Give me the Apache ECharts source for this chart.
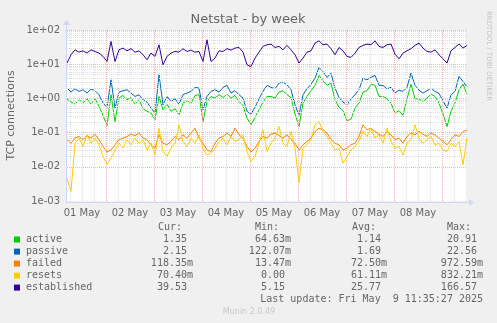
<!DOCTYPE html>
<html>
<head>
<meta charset="utf-8">
<script src="https://cdn.jsdelivr.net/npm/echarts@6/dist/echarts.min.js"></script>
<style>
  html, body { margin: 0; padding: 0; background: #f0f0f0; }
  #chart { width: 497px; height: 323px; }
</style>
</head>
<body>
<div id="chart"></div>
<script>
// Samples every 2 hours; time is counted in hours after 01 May 00:00.
const startHour = 4.5;
const stepHours = 2;

const dayLabels = ['01 May', '02 May', '03 May', '04 May', '05 May', '06 May', '07 May', '08 May'];
const yTickLabels = ['1e-03', '1e-02', '1e-01', '1e+00', '1e+01', '1e+02'];

const active = [
  0.97, 0.78, 0.68, 0.91, 0.73, 0.97, 0.68, 0.97, 0.58, 0.32,
  0.16, 1.28, 0.21, 1.02, 1.22, 0.91, 1.06, 0.68, 0.91, 0.50,
  0.42, 0.37, 0.24, 1.14, 0.465, 0.68, 0.42, 0.50, 0.33, 0.73,
  0.85, 0.73, 1.22, 1.28, 0.21, 0.815, 1.14, 1.02, 1.28, 1.06,
  1.33, 1.02, 1.22, 0.815, 0.62, 0.265, 0.17, 0.28, 0.465, 0.78,
  1.14, 1.14, 1.02, 1.53, 1.68, 1.28, 1.06, 0.35, 0.15, 0.73,
  1.14, 1.68, 2.40, 4.7, 3.3, 2.40, 2.80, 0.91, 0.55, 0.44,
  0.22, 0.25, 0.52, 0.73, 1.53, 1.68, 2.60, 2.40, 1.14, 1.14,
  0.97, 0.73, 0.37, 0.44, 0.32, 0.97, 2.60, 0.97, 0.97, 0.815,
  1.02, 1.33, 1.14, 0.73, 0.35, 0.15, 0.42, 0.73, 1.79, 2.60,
  1.35
];

const passive = [
  2.00, 1.53, 1.91, 1.60, 1.79, 1.43, 1.87, 1.68, 1.28, 0.73,
  0.55, 3.5, 0.52, 1.53, 1.68, 1.79, 1.43, 1.14, 1.28, 0.91,
  0.78, 0.52, 0.37, 4.9, 0.65, 1.14, 0.815, 0.97, 0.68, 1.28,
  1.43, 1.60, 2.10, 2.00, 0.465, 1.14, 1.60, 1.79, 1.53, 2.10,
  2.40, 1.43, 1.68, 1.28, 1.02, 0.416, 0.35, 0.55, 0.97, 1.60,
  2.40, 2.10, 1.91, 2.80, 3.0, 2.50, 1.79, 0.65, 0.32, 1.28,
  1.91, 2.60, 3.9, 8.0, 6.1, 4.1, 5.5, 2.00, 1.07, 0.78,
  0.65, 0.97, 1.28, 1.79, 3.9, 3.5, 4.1, 4.7, 2.40, 2.40,
  1.91, 2.10, 1.43, 1.75, 1.60, 2.10, 5.5, 2.40, 1.75, 1.43,
  1.68, 2.00, 1.60, 1.40, 0.85, 0.52, 1.28, 1.60, 4.4, 3.13,
  2.15
];

const failed = [
  0.062, 0.049, 0.069, 0.077, 0.062, 0.082, 0.069, 0.090, 0.062, 0.039,
  0.027, 0.031, 0.044, 0.062, 0.069, 0.077, 0.090, 0.082, 0.097, 0.069,
  0.062, 0.044, 0.035, 0.086, 0.049, 0.044, 0.055, 0.077, 0.062, 0.086,
  0.069, 0.097, 0.135, 0.069, 0.049, 0.031, 0.028, 0.049, 0.069, 0.077,
  0.097, 0.077, 0.135, 0.086, 0.069, 0.039, 0.027, 0.035, 0.055, 0.077,
  0.069, 0.090, 0.097, 0.082, 0.069, 0.086, 0.062, 0.049, 0.031, 0.044,
  0.055, 0.069, 0.108, 0.135, 0.121, 0.097, 0.062, 0.049, 0.044, 0.031,
  0.035, 0.044, 0.049, 0.077, 0.169, 0.121, 0.135, 0.108, 0.090, 0.077,
  0.108, 0.086, 0.062, 0.069, 0.049, 0.077, 0.097, 0.086, 0.108, 0.090,
  0.077, 0.097, 0.086, 0.069, 0.055, 0.044, 0.062, 0.086, 0.077, 0.108,
  0.118
];

const resets = [
  0.0047, 0.0019, 0.049, 0.069, 0.039, 0.086, 0.049, 0.069, 0.044, 0.020,
  0.0115, 0.018, 0.031, 0.049, 0.035, 0.062, 0.044, 0.069, 0.049, 0.062,
  0.031, 0.049, 0.022, 0.135, 0.028, 0.020, 0.035, 0.049, 0.169, 0.055,
  0.039, 0.069, 0.049, 0.086, 0.035, 0.022, 0.025, 0.035, 0.055, 0.069,
  0.044, 0.077, 0.055, 0.062, 0.086, 0.028, 0.0144, 0.020, 0.049, 0.121,
  0.028, 0.049, 0.069, 0.151, 0.049, 0.039, 0.108, 0.035, 0.0034, 0.035,
  0.044, 0.062, 0.169, 0.212, 0.108, 0.077, 0.049, 0.031, 0.035, 0.0128,
  0.020, 0.031, 0.039, 0.055, 0.108, 0.077, 0.135, 0.069, 0.086, 0.049,
  0.135, 0.055, 0.035, 0.039, 0.022, 0.049, 0.062, 0.169, 0.069, 0.049,
  0.062, 0.077, 0.044, 0.049, 0.031, 0.028, 0.049, 0.039, 0.055, 0.0115,
  0.070
];

const established = [
  10.8, 18.9, 26.4, 22.5, 24.6, 21.1, 26.4, 23.6, 21.1, 16.9,
  12.0, 46.3, 12.0, 26.4, 29.6, 24.6, 28.5, 22.5, 24.6, 18.9,
  13.5, 21.1, 16.9, 37.0, 9.6, 16.9, 21.1, 23.6, 22.5, 28.5,
  23.6, 25.8, 22.5, 23.6, 12.0, 51.8, 12.0, 15.1, 24.6, 23.6,
  28.5, 25.8, 29.6, 30.9, 22.5, 9.6, 8.6, 15.1, 22.5, 33.1,
  37.0, 38.7, 30.9, 33.1, 26.4, 35.4, 26.4, 18.9, 10.8, 15.1,
  22.5, 24.6, 41.4, 48.3, 37.0, 38.7, 28.5, 18.9, 30.9, 24.6,
  16.9, 15.8, 21.1, 30.9, 35.4, 38.7, 37.0, 48.3, 33.1, 30.9,
  37.0, 38.7, 19.7, 14.4, 21.1, 24.6, 28.5, 35.4, 41.4, 29.6,
  23.6, 22.5, 26.4, 18.9, 14.4, 10.8, 24.6, 30.9, 38.7, 29.6,
  35.4
];

// Legend table
const seriesNames = ['active', 'passive', 'failed', 'resets', 'established'];
const seriesColors = ['#00CC00', '#0066B3', '#FF8000', '#FFCC00', '#330099'];
const statHeaders = ['Cur:', 'Min:', 'Avg:', 'Max:'];
const statCur = ['1.35', '2.15', '118.35m', '70.40m', '39.53'];
const statMin = ['64.63m', '122.07m', '13.47m', '0.00', '5.15'];
const statAvg = ['1.14', '1.69', '72.50m', '61.11m', '25.77'];
const statMax = ['20.91', '22.56', '972.59m', '832.21m', '166.57'];
const lastUpdate = 'Last update: Fri May  9 11:35:27 2025';
const versionText = 'Munin 2.0.49';

// Layout
const plotLeft = 67, plotTop = 30, plotWidth = 400, plotHeight = 171;
const endHour = startHour + stepHours * (active.length - 1);
const fontColor = '#666666';
const axisColor = '#CFD6F8';
const monoFont = '"DejaVu Sans Mono", monospace';
const sansFont = '"DejaVu Sans", sans-serif';

const toPairs = arr => arr.map((v, i) => [startHour + stepHours * i, v]);

// Grid lines: minor every 6 h and at 2..9 per decade, major at midnight and decades
const gridMinor = '#dedede', gridMajor = '#f3b3b3';
const gridLines = [];
for (let h = 6; h < endHour; h += 6) {
  gridLines.push({ xAxis: h, lineStyle: { color: h % 24 === 0 ? gridMajor : gridMinor } });
}
for (let e = -3; e <= 1; e++) {
  for (let k = 2; k <= 9; k++) {
    gridLines.push({ yAxis: k * Math.pow(10, e), lineStyle: { color: gridMinor } });
  }
}
for (let e = -3; e <= 2; e++) {
  gridLines.push({ yAxis: Math.pow(10, e), lineStyle: { color: gridMajor } });
}

const lineSeries = [active, passive, failed, resets, established].map((arr, i) => ({
  name: seriesNames[i],
  type: 'line',
  data: toPairs(arr),
  showSymbol: false,
  symbol: 'none',
  lineStyle: { color: seriesColors[i], width: 1 },
  itemStyle: { color: seriesColors[i] },
  z: 3 + i,
  animation: false,
  silent: true
}));

// Legend table graphics
const graphics = [];
const rowY = [239.5, 251.6, 263.6, 275.6, 287.6];
const colRight = [193, 291, 387, 483];
const headerX = [158, 255, 352, 447];
const charW = 6.02;
const monoStyle = (text, x, y, align) => ({
  type: 'text', x: x, y: y, silent: true,
  style: { text: text, font: '10px ' + monoFont, fill: fontColor, align: align || 'left', verticalAlign: 'middle' }
});
statHeaders.forEach((t, c) => graphics.push(monoStyle(t, headerX[c], 227.7)));
const stats = [statCur, statMin, statAvg, statMax];
seriesNames.forEach((name, r) => {
  graphics.push({
    type: 'rect', silent: true,
    shape: { x: 14, y: rowY[r] - 3, width: 6, height: 6 },
    style: { fill: seriesColors[r] }
  });
  graphics.push(monoStyle(name, 26, rowY[r]));
  stats.forEach((col, c) => {
    const s = col[r];
    const x = colRight[c] - (s.endsWith('m') ? 0 : charW);
    graphics.push(monoStyle(s, x, rowY[r], 'right'));
  });
});
graphics.push(monoStyle(lastUpdate, 483, 299.7, 'right'));
graphics.push({
  type: 'text', x: 249, y: 311.7, silent: true,
  style: { text: versionText, font: '8px ' + sansFont, fill: '#c8c8c8', align: 'center', verticalAlign: 'middle' }
});
// Title, axis name and side credit
graphics.push({
  type: 'text', x: 248, y: 19.5, silent: true,
  style: { text: 'Netstat - by week', font: '13px ' + sansFont, fill: fontColor, align: 'center', verticalAlign: 'middle' }
});
graphics.push({
  type: 'text', x: 11.5, y: plotTop + plotHeight / 2, rotation: Math.PI / 2, silent: true,
  style: { text: 'TCP connections', font: '11px ' + sansFont, fill: fontColor, align: 'center', verticalAlign: 'middle' }
});
graphics.push({
  type: 'text', x: 488.5, y: 56, rotation: -Math.PI / 2, silent: true,
  style: { text: 'RRDTOOL / TOBI OETIKER', font: '7px ' + sansFont, fill: '#c4c4c4', align: 'center', verticalAlign: 'middle' }
});
// Axis lines with arrow heads
const axisBottom = plotTop + plotHeight + 1;
graphics.push({
  type: 'line', silent: true, z: 10,
  shape: { x1: plotLeft - 0.5, y1: axisBottom + 0.5, x2: plotLeft + plotWidth + 3, y2: axisBottom + 0.5 },
  style: { stroke: axisColor, lineWidth: 1 }
});
graphics.push({
  type: 'polygon', silent: true, z: 10,
  shape: { points: [[plotLeft + plotWidth + 2, axisBottom - 3], [plotLeft + plotWidth + 7, axisBottom + 0.5], [plotLeft + plotWidth + 2, axisBottom + 4]] },
  style: { fill: axisColor }
});
graphics.push({
  type: 'line', silent: true, z: 10,
  shape: { x1: plotLeft - 0.5, y1: axisBottom + 0.5, x2: plotLeft - 0.5, y2: plotTop - 6 },
  style: { stroke: axisColor, lineWidth: 1 }
});
graphics.push({
  type: 'polygon', silent: true, z: 10,
  shape: { points: [[plotLeft - 4, plotTop - 5], [plotLeft - 0.5, plotTop - 10], [plotLeft + 3, plotTop - 5]] },
  style: { fill: axisColor }
});

const chart = echarts.init(document.getElementById('chart'), null, { renderer: 'canvas' });
chart.setOption({
  backgroundColor: '#f0f0f0',
  animation: false,
  grid: {
    left: plotLeft, top: plotTop, width: plotWidth, height: plotHeight,
    show: true, backgroundColor: '#ffffff', borderWidth: 0, containLabel: false
  },
  xAxis: {
    type: 'value',
    min: startHour,
    max: endHour,
    axisLine: { show: false },
    axisTick: { show: false },
    splitLine: { show: false },
    axisLabel: {
      customValues: dayLabels.map((_, i) => 12 + 24 * i),
      formatter: v => dayLabels[Math.round((v - 12) / 24)],
      color: fontColor,
      fontFamily: sansFont,
      fontSize: 10,
      margin: 7
    }
  },
  yAxis: {
    type: 'log',
    logBase: 10,
    min: 0.001,
    max: 100,
    axisLine: { show: false },
    axisTick: { show: false },
    splitLine: { show: false },
    axisLabel: {
      formatter: v => yTickLabels[Math.round(Math.log10(v)) + 3],
      color: fontColor,
      fontFamily: sansFont,
      fontSize: 10,
      margin: 7
    }
  },
  series: [
    {
      type: 'line',
      data: [],
      z: 1,
      silent: true,
      markLine: {
        silent: true,
        symbol: 'none',
        label: { show: false },
        animation: false,
        lineStyle: { width: 1, type: [1, 1] },
        emphasis: { disabled: true },
        data: gridLines
      }
    }
  ].concat(lineSeries),
  graphic: graphics
});
</script>
</body>
</html>
